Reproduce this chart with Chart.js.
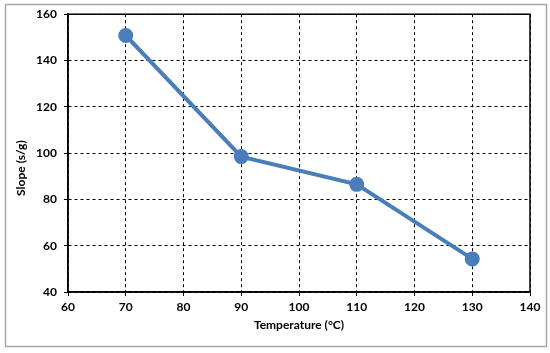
<!DOCTYPE html>
<html>
<head>
<meta charset="utf-8">
<script src="https://cdn.jsdelivr.net/npm/chart.js@4/dist/chart.umd.min.js"></script>
<style>
  html, body { margin: 0; padding: 0; background: #fff; }
  #wrap { width: 550px; height: 353px; }
</style>
</head>
<body>
<div id="wrap"><canvas id="grafico" width="550" height="353"></canvas></div>
<script>
// ======= DADOS =======
const temperaturas = [70, 90, 110, 130];
const slopes = [150.8, 98.5, 86.5, 54.3];
const xTicks = [60, 70, 80, 90, 100, 110, 120, 130, 140];
const yTicks = [40, 60, 80, 100, 120, 140, 160];
const tituloY = "Slope (s/g)";

const fonte = { family: "Lato, 'Liberation Sans', sans-serif", size: 12, weight: "bold" };

// moldura externa cinza, borda da área do gráfico e título do eixo Y
const molduras = {
  id: "molduras",
  beforeDraw(chart) {
    const c = chart.ctx;
    c.save();
    c.fillStyle = "#fff";
    c.fillRect(0, 0, chart.width, chart.height);
    c.strokeStyle = "#a6a6a6";
    c.lineWidth = 1.5;
    c.strokeRect(5.5, 4.5, 541, 342);
    c.restore();
  },
  beforeDatasetsDraw(chart) {
    const a = chart.chartArea;
    const c = chart.ctx;
    c.save();
    c.strokeStyle = "#000";
    c.lineWidth = 1.5;
    c.strokeRect(a.left, a.top, a.right - a.left, a.bottom - a.top);
    // título Y (um pouco abaixo do centro, como no original)
    c.translate(21, (a.top + a.bottom) / 2 + 15);
    c.rotate(-Math.PI / 2);
    c.fillStyle = "#000";
    c.font = "bold 12px Lato, 'Liberation Sans', sans-serif";
    c.textAlign = "center";
    c.textBaseline = "middle";
    c.fillText(tituloY, 0, 0);
    c.restore();
  }
};

new Chart(document.getElementById("grafico"), {
  type: "line",
  data: {
    datasets: [{
      data: temperaturas.map((t, i) => ({ x: t, y: slopes[i] })),
      borderColor: "#4a7ebb",
      backgroundColor: "#4a7ebb",
      borderWidth: 4,
      pointRadius: 5.5,
      pointHoverRadius: 5.5,
      tension: 0,
      fill: false
    }]
  },
  options: {
    responsive: false,
    animation: false,
    layout: { padding: { left: 8, right: 20, top: 12, bottom: 17 } },
    plugins: { legend: { display: false }, tooltip: { enabled: false } },
    scales: {
      x: {
        type: "linear",
        min: 60, max: 140,
        afterBuildTicks: s => { s.ticks = xTicks.map(v => ({ value: v })); },
        afterFit: s => { s.height = 353 - 292 - 17; },
        ticks: { color: "#000", font: fonte, padding: 4, maxRotation: 0 },
        grid: { color: "#000", lineWidth: 1, tickLength: 4 },
        border: { display: true, color: "#000", width: 1.5, dash: [3, 3] },
        title: { display: true, text: "Temperature (°C)", color: "#000", font: fonte, padding: { top: 2, bottom: 4 } }
      },
      y: {
        min: 40, max: 160,
        afterBuildTicks: s => { s.ticks = yTicks.map(v => ({ value: v })); },
        afterFit: s => { s.width = 68 - 8; },
        ticks: { color: "#000", font: fonte, padding: 7 },
        grid: { color: "#000", lineWidth: 1, tickLength: 4 },
        border: { display: true, color: "#000", width: 1.5, dash: [3, 3] },
        title: { display: false }
      }
    }
  },
  plugins: [molduras]
});
</script>
</body>
</html>
